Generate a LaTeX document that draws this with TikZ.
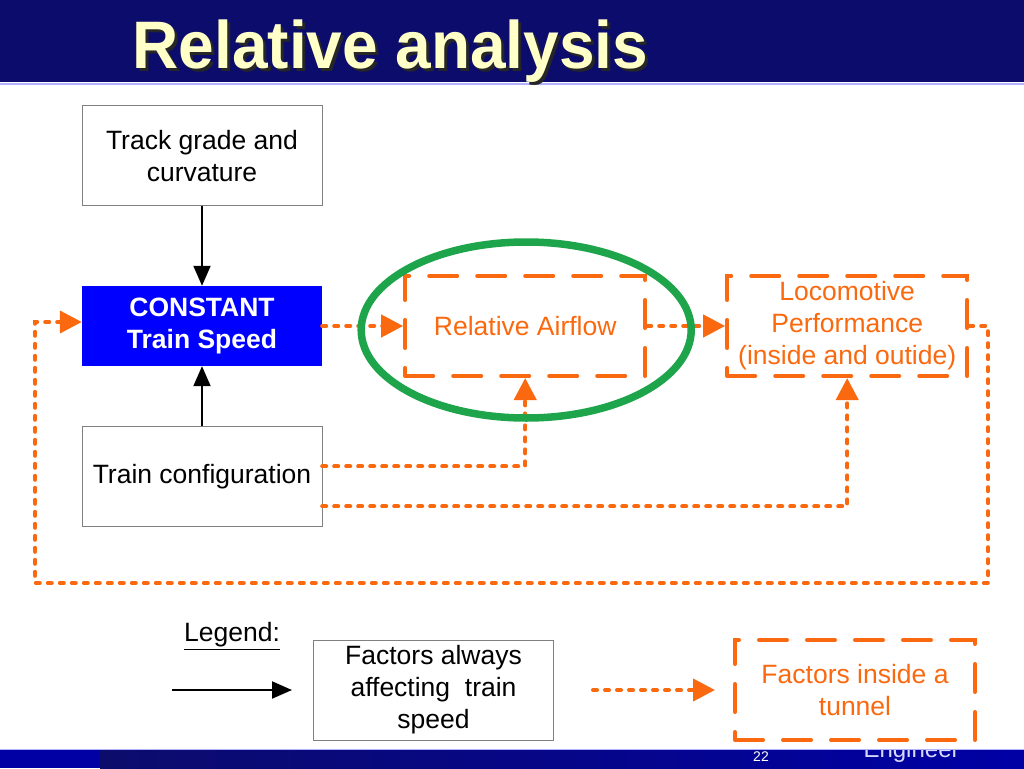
\documentclass[tikz,border=0pt]{standalone}
\usepackage{fontspec}
\setmainfont{Liberation Sans}
\usetikzlibrary{positioning,arrows.meta}
\definecolor{navy}{RGB}{12,12,108}
\definecolor{barblue}{RGB}{0,0,165}
\definecolor{tunnelorange}{RGB}{250,105,15}
\definecolor{ringgreen}{RGB}{30,165,75}
\definecolor{titlecream}{RGB}{255,255,200}

\begin{document}
\begin{tikzpicture}[x=1pt, y=-1pt, node distance={80pt},
  every node/.style={font=\fontsize{26.5}{32}\selectfont, align=center},
  box/.style={draw=gray, minimum width=240pt, minimum height=100pt, inner sep=0pt},
  speedbox/.style={box, draw=none, fill=blue, text=white, minimum height=80pt, font=\fontsize{26.5}{32}\selectfont\bfseries},
  tunnelbox/.style={box, draw=tunnelorange, text=tunnelorange, line width=4pt, dash pattern=on 28pt off 20pt, line cap=round},
  always/.style={-{Triangle[length=20pt,width=17pt]}, line width=2pt},
  tunnel/.style={-{Triangle[length=22pt,width=22pt]}, draw=tunnelorange, line width=4pt, dash pattern=on 4pt off 8pt, line cap=round},
  ring/.style={draw=ringgreen, line width=7.5pt}]
  \useasboundingbox (0,0) rectangle (1024,768);
  \fill[white] (0,0) rectangle (1024,768);
  % title bar
  \fill[navy] (0,0) rectangle (1024,82);
  \draw[blue!30!white, line width=2pt] (0,84) -- (1024,84);
  \node[anchor=base west, text=black!85, font=\fontsize{64}{64}\selectfont\bfseries, yscale=1.05] (titleshadow) at (132,71) {Relative analysis};
  \node[anchor=base west, text=titlecream, font=\fontsize{64}{64}\selectfont\bfseries, yscale=1.05] (title) at (129,68) {Relative analysis};
  % main boxes
  \node[speedbox] (speed) at (202,326) {CONSTANT\\Train Speed};
  \node[box] (track) [above=80pt of speed] {Track grade and\\curvature};
  \node[box] (config) [below=60pt of speed] {Train configuration};
  \node[tunnelbox] (airflow) [right=81pt of speed] {Relative Airflow};
  \node[tunnelbox] (loco) [right=78pt of airflow] {Locomotive\\Performance\\(inside and outide)};
  % connectors
  \draw[always] (track) -- (speed);
  \draw[always] (config) -- (speed);
  \draw[tunnel] (speed) -- (airflow);
  \draw[tunnel] (airflow) -- (loco);
  \draw[tunnel] ([yshift=10pt]config.east) -| (airflow.south);
  \draw[tunnel] ([yshift=-30pt]config.east) -| (loco.south);
  \coordinate (loopright) at (988,583);
  \coordinate (loopleft) at (35,583);
  \draw[tunnel] (loco.east) -| (loopright) -- (loopleft) |- ([yshift=4pt]speed.west);
  \draw[ring] ([xshift=1pt,yshift=-4pt]airflow.center) ellipse [x radius=165pt, y radius=88pt];
  % legend
  \node (legend) at (232,636) {\underline{Legend:}};
  \coordinate (solidstart) at (172,690);
  \coordinate (solidend) at (292,690);
  \draw[always] (solidstart) -- (solidend);
  \node[box] (legsolid) at (433.5,690) {Factors always\\affecting~ train\\speed};
  \coordinate (dotstart) at (593,690);
  \coordinate (dotend) at (715,690);
  \draw[tunnel] (dotstart) -- (dotend);
  \node[tunnelbox] (legtunnel) at (855,690) {Factors inside a\\tunnel};
  % footer bar
  \shade[left color=navy, right color=barblue] (100,749) rectangle (1024,768);
  \fill[barblue] (0,749) rectangle (100,768);
  \draw[blue!30!white, line width=1pt] (0,749) -- (1024,749);
  \node[text=white, font=\fontsize{14}{14}\selectfont] (pagenum) at (761,757) {22};
  \begin{scope}
    \clip (0,750) rectangle (1024,768);
    \node[anchor=base west, text=white!85!blue, font=\fontsize{24}{24}\selectfont] (footer) at (860,757) {Engineer};
  \end{scope}
\end{tikzpicture}
\end{document}
